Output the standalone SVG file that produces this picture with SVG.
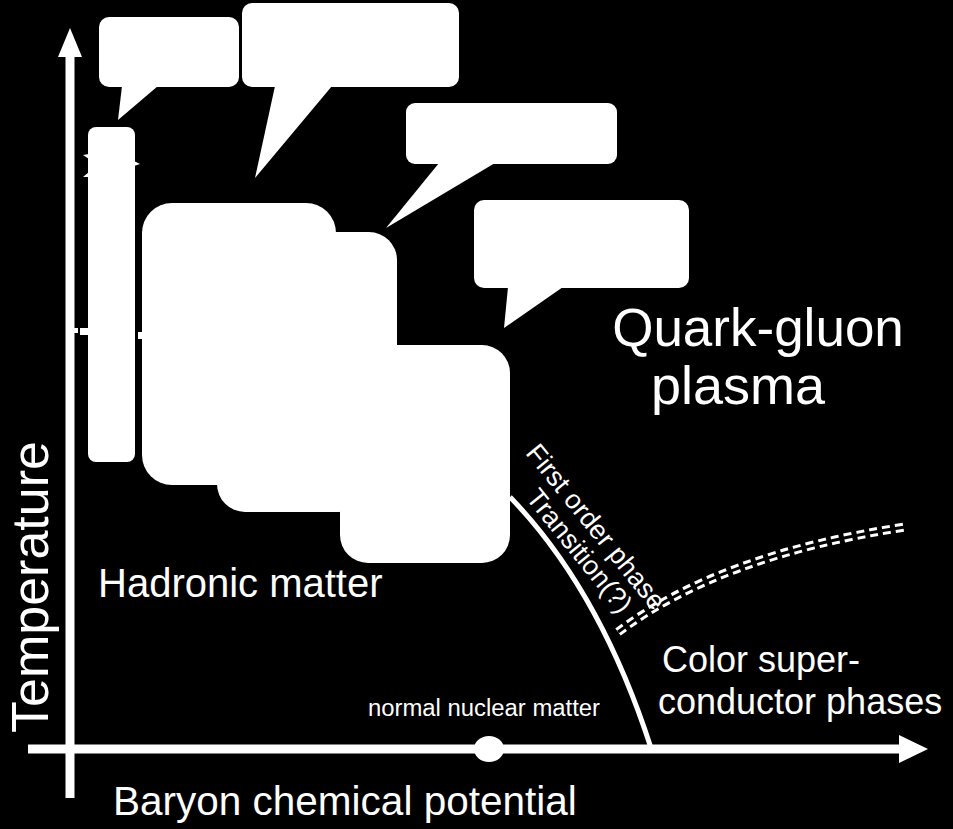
<svg xmlns="http://www.w3.org/2000/svg" width="953" height="829" viewBox="0 0 953 829">
<style>
.w{fill:#fff}
.t{fill:#fff;font-family:"Liberation Sans",Arial,sans-serif}
</style>
<rect x="0" y="0" width="953" height="829" fill="#000"/>
<g id="bubble1"><rect class="w" x="99" y="17" width="140" height="70" rx="10"/><polygon class="w" points="122,86 118,120 158,86"/></g>
<g id="bubble2"><rect class="w" x="242" y="3" width="217" height="84" rx="10"/><polygon class="w" points="275,86 255,178 332,86"/></g>
<g id="bubble3"><rect class="w" x="406" y="103" width="211" height="61" rx="9"/><polygon class="w" points="439,163 386,228 495,163"/></g>
<g id="bubble4"><rect class="w" x="474" y="200" width="215" height="88" rx="10"/><polygon class="w" points="508,287 504,328 563,287"/></g>
<g id="bar"><rect class="w" x="88" y="127" width="47" height="335" rx="8"/>
<polygon class="w" points="83,155 89,154 89,159"/><polygon class="w" points="83,177 89,172 89,177"/><polygon class="w" points="140,164 134,161 134,166"/>
<rect class="w" x="73" y="328" width="5" height="5"/><rect class="w" x="80" y="328" width="8" height="7"/><rect class="w" x="138" y="332" width="4" height="7"/></g>
<g id="blob"><rect class="w" x="142" y="203" width="194" height="282" rx="30"/><rect class="w" x="230" y="232" width="167" height="200" rx="28"/><rect class="w" x="217" y="300" width="150" height="212" rx="28"/><rect class="w" x="340" y="345" width="170" height="218" rx="28"/></g>
<g id="connectors" fill="none" stroke="#fff">
<line x1="70" y1="798" x2="70" y2="50" stroke-width="9"/>
<polygon points="70,28 58,57 82,57" fill="#fff" stroke="none"/>
<line x1="28" y1="749" x2="903" y2="749" stroke-width="9"/>
<polygon points="928,749 899,735 899,763" fill="#fff" stroke="none"/>
<path d="M510,497 Q600,590 651,748" stroke-width="5"/>
<path d="M618,632 Q720,555 905,527" stroke-width="9" stroke-dasharray="8 5"/>
<path d="M618,632 Q720,555 905,527" stroke-width="3" stroke="#000"/>
</g>
<g id="nuclear"><ellipse class="w" cx="489" cy="749" rx="15" ry="13"/><text class="t" x="368" y="716" font-size="23" textLength="232" lengthAdjust="spacingAndGlyphs">normal nuclear matter</text></g>
<g id="labels">
<text class="t" x="758" y="346" font-size="53" text-anchor="middle">Quark-gluon</text>
<text class="t" x="738" y="404" font-size="54" text-anchor="middle">plasma</text>
<text class="t" x="98" y="597" font-size="40">Hadronic matter</text>
<text class="t" x="662" y="672" font-size="36">Color super-</text>
<text class="t" x="658" y="714" font-size="36">conductor phases</text>
<text class="t" x="113" y="815" font-size="40.5">Baryon chemical potential</text>
<text class="t" transform="translate(48,733) rotate(-90)" font-size="52">Temperature</text>
<g transform="translate(596,527) rotate(51)"><text class="t" x="0" y="9" font-size="27" text-anchor="middle">First order phase</text><text class="t" x="8" y="37" font-size="27" text-anchor="middle">Transition(?)</text></g>
</g>
</svg>
